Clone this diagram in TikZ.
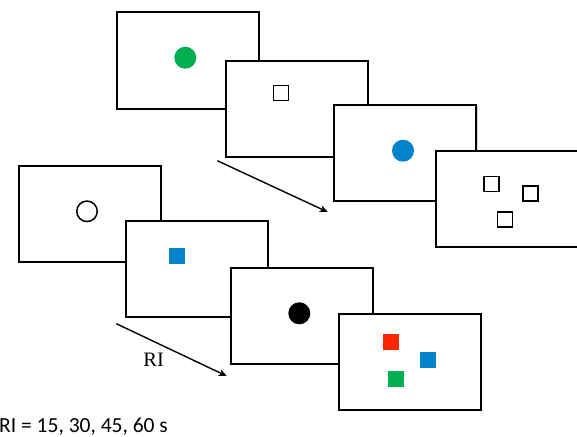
\documentclass[tikz,border=0pt]{standalone}
\usepackage{fontspec}
\setmainfont{Liberation Serif}
\newfontfamily\calib{Carlito}
\usetikzlibrary{arrows.meta,shadows}
\definecolor{dgreen}{RGB}{0,176,80}
\definecolor{dblue}{RGB}{0,131,202}
\definecolor{dred}{RGB}{255,38,0}
\begin{document}
\begin{tikzpicture}[x=1pt,y=-1pt,
  screen/.style={draw=black,line width=2pt,fill=white,minimum width=142pt,minimum height=96pt,inner sep=0pt,
    drop shadow={shadow xshift=1.2pt,shadow yshift=-1.2pt,opacity=0.35}},
  dot/.style={circle,minimum size=22pt,inner sep=0pt},
  osq/.style={draw=black,line width=1.5pt,minimum size=15pt,inner sep=0pt},
  fsq/.style={minimum size=16pt,inner sep=0pt},
  ocirc/.style={circle,draw=black,line width=1.5pt,minimum size=20.5pt,inner sep=0pt},
  seqarrow/.style={line width=1.4pt,-{Stealth[length=8pt,width=7pt,inset=2.5pt]}}]
\useasboundingbox (0,0) rectangle (577,436);
% top sequence
\node[screen] (t1) at (188,60.5) {};
\node[dot,fill=dgreen] (g1) at (185.3,57.7) {};
\node[screen] (t2) at (296.5,109) {};
\node[osq] (s1) at (281,93) {};
\node[screen] (t3) at (405.3,153) {};
\node[dot,fill=dblue] (b1) at (403,150.7) {};
\node[screen] (t4) at (507,199) {};
\node[osq] (s2) at (491.5,184) {};
\node[osq] (s3) at (530.5,193.3) {};
\node[osq] (s4) at (505,219.7) {};
\coordinate (ta) at (217.3,160.7);
\coordinate (tb) at (327.7,212);
\draw[seqarrow] (ta) -- (tb);
% bottom sequence
\node[screen] (u1) at (89.7,213.8) {};
\node[ocirc] (c1) at (87,211.3) {};
\node[screen] (u2) at (197.2,268.7) {};
\node[fsq,fill=dblue] (q1) at (177,256) {};
\node[screen] (u3) at (302.2,315.8) {};
\node[dot,fill=black] (k1) at (299.3,313.3) {};
\node[screen] (u4) at (409.9,361.7) {};
\node[fsq,fill=dred] (r1) at (391,342) {};
\node[fsq,fill=dblue] (r2) at (428,360) {};
\node[fsq,fill=dgreen] (r3) at (396,379) {};
\coordinate (ua) at (116.3,323.7);
\coordinate (ub) at (226.7,376);
\draw[seqarrow] (ua) -- (ub);
\node[anchor=base,font=\fontsize{20.5}{24}\selectfont,inner sep=0pt] (ri) at (153.7,366.7) {RI};
\node[anchor=base west,font=\calib\fontsize{21.5}{26}\selectfont,inner sep=0pt] (eq) at (-1,432) {RI = 15, 30, 45, 60 s};
\end{tikzpicture}
\end{document}
